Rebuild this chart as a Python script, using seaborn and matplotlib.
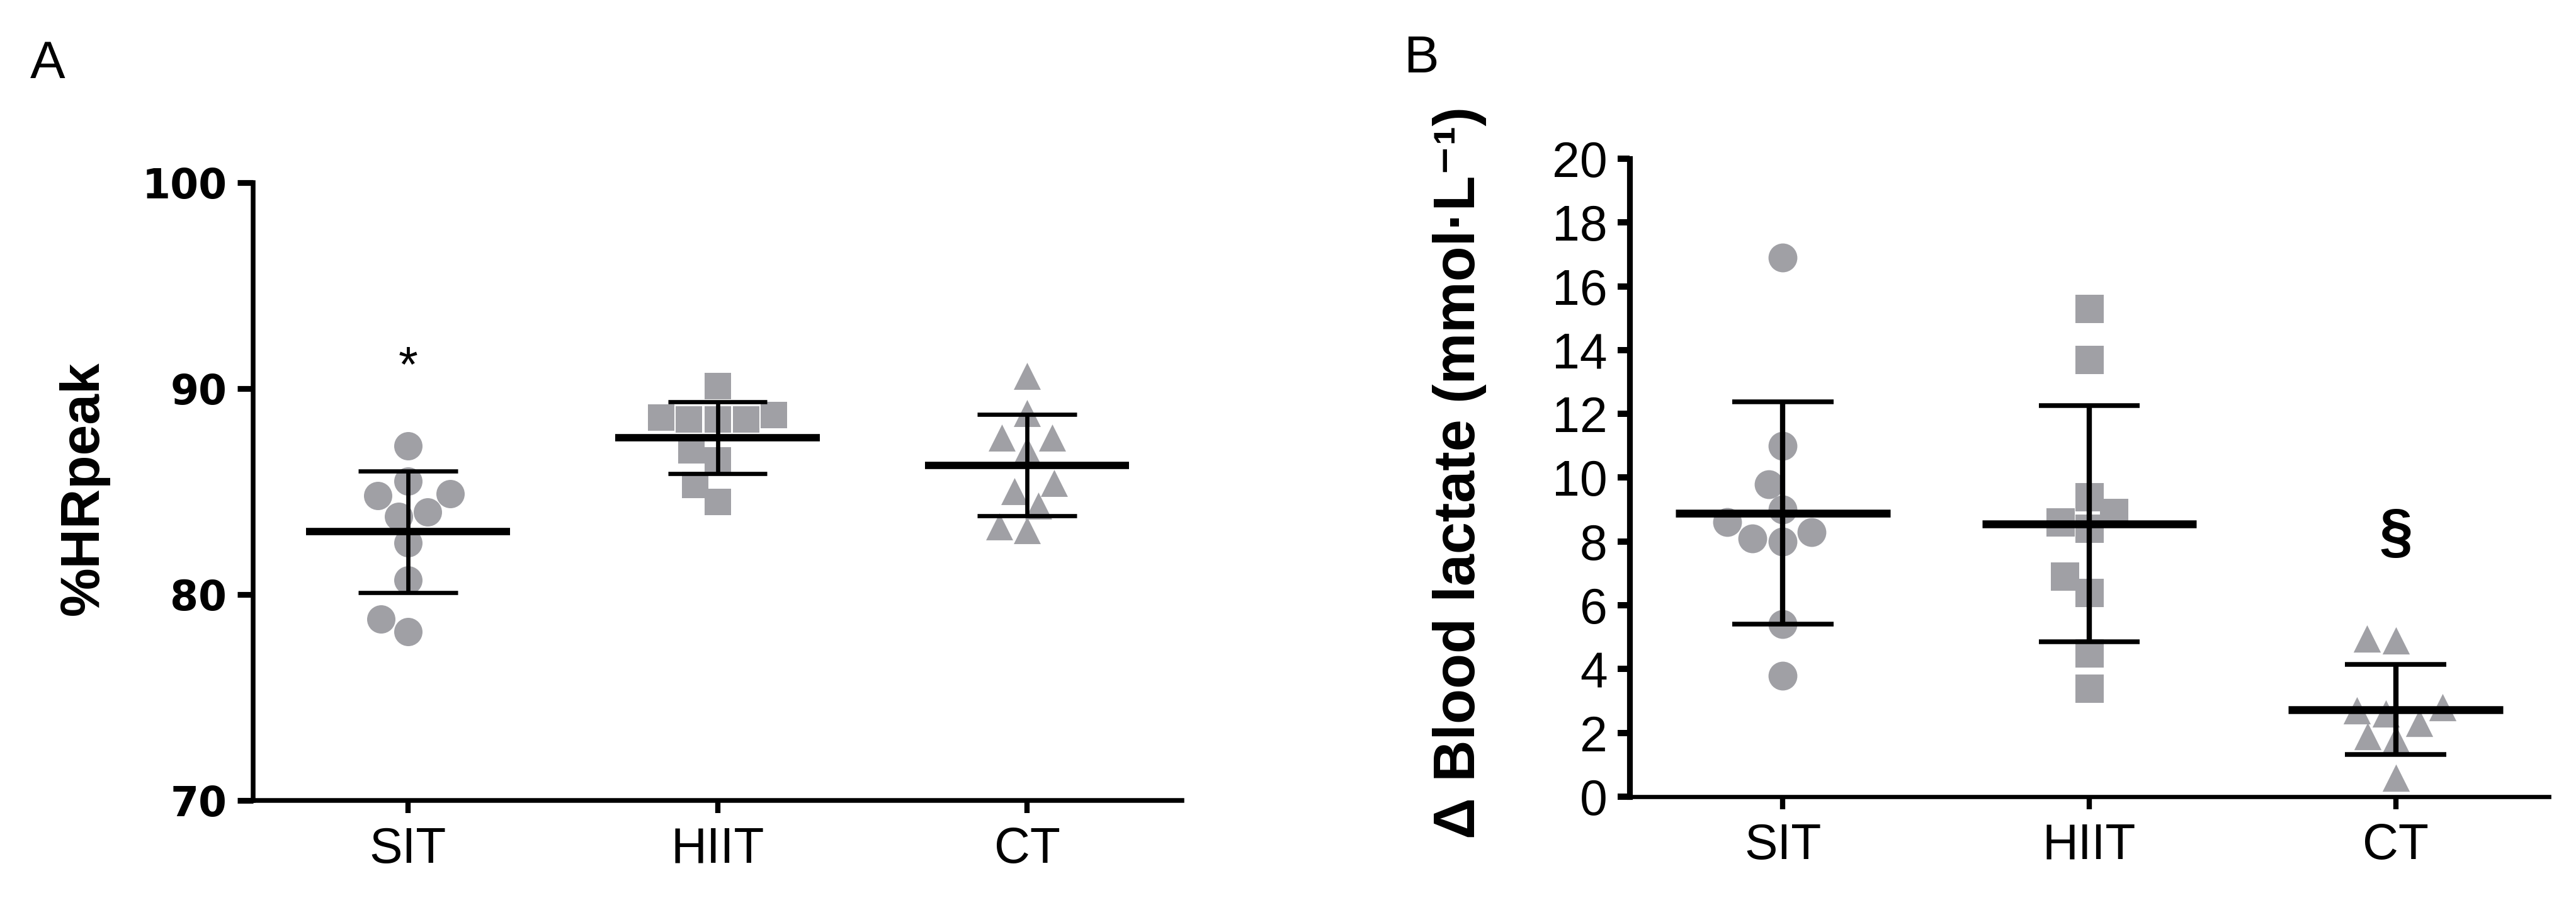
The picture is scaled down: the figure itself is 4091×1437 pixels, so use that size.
import numpy as np
import pandas as pd
import matplotlib.pyplot as plt
import seaborn as sns
from matplotlib import font_manager
from matplotlib.font_manager import FontProperties

# groups and marker per group
groups = ["SIT", "HIIT", "CT"]
markers = ["o", "s", "^"]

# panel A: %HRpeak, one value per participant
hr_sit = [87.2, 85.5, 84.9, 84.8, 84.0, 83.8, 82.5, 80.7, 78.8, 78.2]
hr_hiit = [90.1, 88.5, 88.5, 88.5, 88.7, 88.6, 87.0, 86.5, 85.3, 84.5]
hr_ct = [90.6, 88.8, 87.6, 87.6, 87.0, 85.4, 85.0, 84.3, 83.3, 83.1]

# panel B: delta blood lactate (mmol/L)
la_sit = [16.9, 11.0, 9.8, 9.0, 8.6, 8.3, 8.1, 8.0, 5.4, 3.8]
la_hiit = [15.3, 13.7, 9.4, 8.9, 8.6, 8.4, 6.9, 6.4, 4.5, 3.4]
la_ct = [4.95, 4.9, 2.8, 2.7, 2.6, 2.3, 1.9, 1.8, 0.6]

hr_ticks = [70, 80, 90, 100]
la_ticks = list(range(0, 21, 2))

GRAY = "#a0a0a5"


def pick_font(*names):
    installed = {f.name for f in font_manager.fontManager.ttflist}
    for n in names:
        if n in installed:
            return n
    return "DejaVu Sans"


NARROW = pick_font("Liberation Sans Narrow", "Liberation Sans")
ARIAL = pick_font("Liberation Sans")
narrow_scale = 1.0 if NARROW == "Liberation Sans Narrow" else 0.9


def draw_panel(ax, data, sizes, mean_hw, cap_hw, lws):
    df = pd.DataFrame({
        "group": np.repeat(groups, [len(v) for v in data]),
        "value": np.concatenate(data),
    })
    for grp, marker, size in zip(groups, markers, sizes):
        sub = df[df["group"] == grp]
        sns.swarmplot(data=sub, x="group", y="value", order=groups,
                      marker=marker, color=GRAY, size=size, linewidth=0,
                      ax=ax, zorder=1)

    stats = df.groupby("group")["value"].agg(["mean", "std"]).reindex(groups)
    mean_lw, bar_lw, cap_lw = lws
    for i, (m, s) in enumerate(stats.values):
        ax.hlines(m, i - mean_hw, i + mean_hw, color="black", lw=mean_lw, zorder=3)
        ax.vlines(i, m - s, m + s, color="black", lw=bar_lw, zorder=3)
        ax.hlines([m - s, m + s], i - cap_hw, i + cap_hw, color="black",
                  lw=cap_lw, zorder=3)
    return stats


def main():
    sns.set_style("ticks")
    plt.rcParams["font.family"] = ["Liberation Sans", "DejaVu Sans"]
    plt.rcParams.update({
        "text.color": "black",
        "axes.labelcolor": "black",
        "axes.edgecolor": "black",
        "xtick.color": "black",
        "ytick.color": "black",
    })

    fig = plt.figure(figsize=(4091 / 300, 1437 / 300), dpi=300)
    ax_a = fig.add_axes([0.0983, 0.1155, 0.3605, 0.683])
    ax_b = fig.add_axes([0.6326, 0.1197, 0.3569, 0.705])

    # ---- panel A ----
    draw_panel(ax_a, [hr_sit, hr_hiit, hr_ct], sizes=[10.8, 10.3, 10.3],
               mean_hw=0.33, cap_hw=0.16, lws=(2.8, 1.6, 1.6))
    ax_a.set_ylim(70, 100)
    ax_a.set_yticks(hr_ticks)
    ax_a.set_xlim(-0.5, 2.5)
    ax_a.set_xticks(range(len(groups)), groups)
    ax_a.set_xlabel("")
    ax_a.set_ylabel("%HRpeak", fontsize=21, fontweight="bold",
                    family=[ARIAL, "DejaVu Sans"], va="center")
    ax_a.yaxis.set_label_coords(-0.182, 0.505)
    for side in ["left", "bottom"]:
        ax_a.spines[side].set_linewidth(1.8)
    sns.despine(ax=ax_a)
    ax_a.tick_params(axis="y", length=6, width=2.2, pad=4)
    ax_a.tick_params(axis="x", length=4.8, width=2, pad=5)
    ytick_fp = FontProperties(family="DejaVu Sans", weight="bold", size=15.5)
    for lab in ax_a.get_yticklabels():
        lab.set_fontproperties(ytick_fp)
    xtick_fp = FontProperties(family=NARROW, size=21 * narrow_scale)
    for lab in ax_a.get_xticklabels():
        lab.set_fontproperties(xtick_fp)
    ax_a.annotate("*", xy=(0, 91.76), xytext=(0, -0.31 * 20),
                  textcoords="offset points", ha="center", va="center",
                  fontsize=19, family=ARIAL)

    # ---- panel B ----
    draw_panel(ax_b, [la_sit, la_hiit, la_ct], sizes=[11, 10.8, 10.4],
               mean_hw=0.35, cap_hw=0.165, lws=(3.0, 2.0, 1.8))
    ax_b.set_ylim(0, 20)
    ax_b.set_yticks(la_ticks)
    ax_b.set_xlim(-0.5, 2.5)
    ax_b.set_xticks(range(len(groups)), groups)
    ax_b.set_xlabel("")
    ax_b.set_ylabel("\u0394 Blood lactate (mmol\u00b7L\u207b\u00b9)", fontsize=22,
                    fontweight="bold", family=[ARIAL, "DejaVu Sans"], va="center")
    ax_b.yaxis.set_label_coords(-0.185, 0.508)
    ax_b.spines["left"].set_linewidth(2.2)
    ax_b.spines["bottom"].set_linewidth(1.6)
    sns.despine(ax=ax_b)
    ax_b.tick_params(axis="y", length=4.5, width=2.4, pad=4)
    ax_b.tick_params(axis="x", length=4.8, width=2, pad=5)
    btick_fp = FontProperties(family=NARROW, size=21 * narrow_scale)
    for lab in ax_b.get_yticklabels() + ax_b.get_xticklabels():
        lab.set_fontproperties(btick_fp)
    ax_b.text(2, 8.2, "\u00a7", ha="center", va="center", fontsize=23,
              fontweight="bold", family=ARIAL)

    # panel letters
    fig.text(0.0117, 1 - 124 / 1437, "A", fontsize=20, family=ARIAL, va="baseline")
    fig.text(0.545, 1 - 115 / 1437, "B", fontsize=20, family=ARIAL, va="baseline")

    fig.savefig("out.png", dpi=300)
    plt.close(fig)
    print("fonts:", NARROW, ARIAL)


if __name__ == "__main__":
    main()
